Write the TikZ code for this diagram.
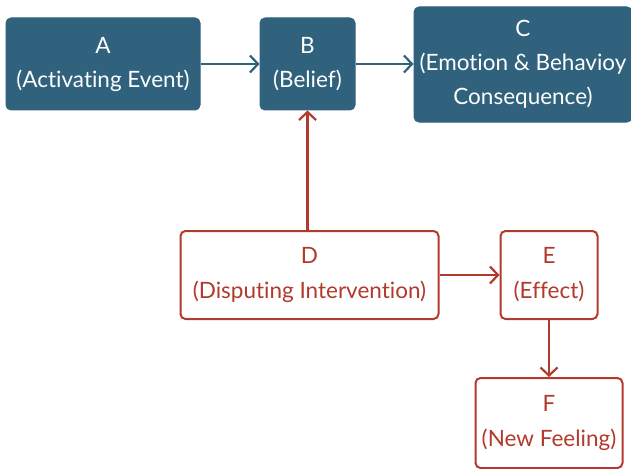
\documentclass[tikz,border=0pt]{standalone}
\usepackage{fontspec}
\setmainfont{Lato}[Ligatures=NoCommon]
\usetikzlibrary{arrows.meta}
\definecolor{bluebox}{HTML}{30627E}
\definecolor{redline}{HTML}{B23A2C}
\tikzset{
  bluenode/.style={draw=bluebox, fill=bluebox, text=white, rounded corners=5pt, line width=1pt,
    align=center, inner sep=0pt, font=\fontsize{22.5}{34}\selectfont},
  rednode/.style={draw=redline, fill=white, text=redline, rounded corners=5pt, line width=2pt,
    align=center, inner sep=0pt, font=\fontsize{22.5}{35}\selectfont},
  bluearrow/.style={draw=bluebox, line width=2.2pt, -{Straight Barb[length=8pt,width=17pt,line width=2.2pt]}},
  redarrow/.style={draw=redline, line width=2.2pt, -{Straight Barb[length=8pt,width=17pt,line width=2.2pt]}}
}
\begin{document}
\begin{tikzpicture}[x=1pt,y=-1pt]
\useasboundingbox (0,0) rectangle (631,468);
\clip (0,0) rectangle (631,468);
\node[bluenode, minimum width=194pt, minimum height=92pt] (A) at (103,64) {A\\(Activating Event)};
\node[bluenode, minimum width=95pt, minimum height=92pt] (B) at (307.5,64) {B\\(Belief)};
\node[bluenode, minimum width=218pt, minimum height=115pt] (C) at (523,64.5) {C\\(Emotion \& Behavioy\\Consequence)};
\node[rednode, minimum width=258pt, minimum height=88pt] (D) at (309.5,275) {D\\(Disputing Intervention)};
\node[rednode, minimum width=97pt, minimum height=88pt] (E) at (549,275) {E\\(Effect)};
\node[rednode, minimum width=147pt, minimum height=90pt] (F) at (549,423) {F\\(New Feeling)};
\draw[bluearrow] (A.east) -- (B.west);
\draw[bluearrow] (B.east) -- (C.west |- B.east);
\draw[redarrow] (D.north -| B.south) -- (B.south);
\draw[redarrow] (D.east) -- (E.west);
\draw[redarrow] (E.south) -- (F.north);
\end{tikzpicture}
\end{document}
